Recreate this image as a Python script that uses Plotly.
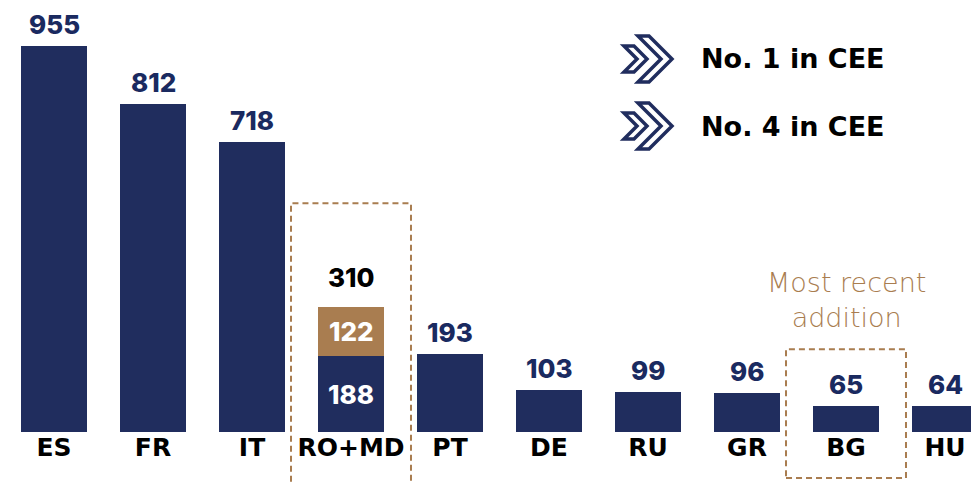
import plotly.graph_objects as go

countries = ["ES", "FR", "IT", "RO+MD", "PT", "DE", "RU", "GR", "BG", "HU"]
main_values = [955, 812, 718, 188, 193, 103, 99, 96, 65, 64]
md_values = [0, 0, 0, 122, 0, 0, 0, 0, 0, 0]
totals = [m + d for m, d in zip(main_values, md_values)]
legend_texts = ["No. 1 in CEE", "No. 4 in CEE"]
note_text = "Most recent<br>addition"

NAVY = "#202d5e"
LABEL = "#1a2a60"
BROWN = "#a97d50"
OFF = 8  # page body margin
W, H = 979 - OFF, 492 - 2 * OFF
HEAVY = "Inter"
WIDE = "DejaVu Sans"

fig = go.Figure()
fig.add_trace(go.Bar(x=countries, y=main_values, marker_color=NAVY, marker_line_width=0))
fig.add_trace(go.Bar(x=countries, y=md_values, marker_color=BROWN, marker_line_width=0))

# value labels above bars
num_font = dict(family=HEAVY, size=26, weight=800)
for i, c in enumerate(countries):
    if md_values[i]:
        fig.add_annotation(x=c, y=totals[i], text=str(totals[i]), showarrow=False,
                           yanchor="bottom", yshift=12, font=dict(num_font, color="black"))
        fig.add_annotation(x=c, y=main_values[i] + md_values[i] / 2, text=str(md_values[i]),
                           showarrow=False, font=dict(num_font, color="white"))
        fig.add_annotation(x=c, y=main_values[i] / 2, text=str(main_values[i]),
                           showarrow=False, font=dict(num_font, color="white"))
    else:
        fig.add_annotation(x=c, y=totals[i], text=str(totals[i]), showarrow=False,
                           yanchor="bottom", yshift=4, font=dict(num_font, color=LABEL))

# dashed highlight boxes
dash = "6px,4px"
fig.add_shape(type="rect", xref="x", yref="y", x0=2.394, x1=3.606, y0=-170, y1=566,
              line=dict(color=BROWN, width=2, dash=dash))
fig.add_shape(type="rect", xref="x", yref="y", x0=7.394, x1=8.606, y0=-114, y1=205,
              line=dict(color=BROWN, width=2, dash=dash))
fig.add_annotation(x="BG", y=205, yshift=14, yanchor="bottom", text=note_text, showarrow=False,
                   font=dict(family=WIDE, size=27, color=BROWN, weight=200))


def px_path(points):
    return "M " + " L ".join(f"{(x - OFF) / W:.5f},{1 - (y - OFF) / H:.5f}" for x, y in points) + " Z"


def chevron(x0, yc, h, d, t):
    return [(x0, yc - h), (x0 + t, yc - h), (x0 + t + d, yc), (x0 + t, yc + h),
            (x0, yc + h), (x0 + d, yc)]


for k, yc in enumerate([59, 126]):
    for x0, h, t in ((624, 13, 10), (638, 23, 11)):
        fig.add_shape(type="path", xref="paper", yref="paper", path=px_path(chevron(x0, yc, h, h, t)),
                      line=dict(color=NAVY, width=3.5), fillcolor="white")
    fig.add_annotation(xref="paper", yref="paper", x=(699 - OFF) / W, y=1 - (yc - OFF) / H,
                       xanchor="left", yanchor="middle", text=legend_texts[k], showarrow=False,
                       font=dict(family=WIDE, size=27, color="black", weight=900))

fig.update_layout(
    width=W, height=H, margin=dict(l=0, r=0, t=0, b=0),
    barmode="stack", bargap=0.333, showlegend=False,
    plot_bgcolor="white", paper_bgcolor="white",
    xaxis=dict(range=[-(54 - OFF) / 99, (979 - 54) / 99], anchor="free",
               position=(492 - OFF - 432) / H,
               showline=False, ticks="", showgrid=False, ticklabelstandoff=-2,
               tickfont=dict(family=WIDE, size=25, color="black", weight=900)),
    yaxis=dict(range=[-(492 - OFF - 432) / 0.40419, (432 - OFF) / 0.40419], visible=False,
               showgrid=False, zeroline=False),
)

fig.write_html("out.html")
